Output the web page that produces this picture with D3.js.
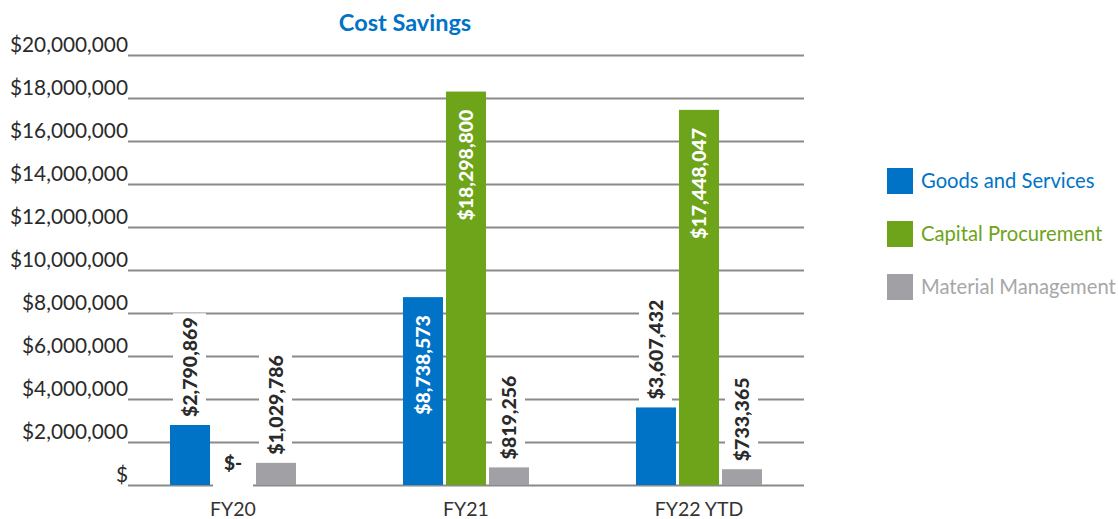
<!DOCTYPE html>
<html>
<head>
<meta charset="utf-8">
<script src="https://cdn.jsdelivr.net/npm/d3@7"></script>
<style>
body{margin:0;background:#fff;}
svg{display:block;font-family:Lato,"Open Sans",sans-serif;}
</style>
</head>
<body>
<svg id="svg" width="1118" height="519"></svg>
<script>
// chart data
var years=["FY20","FY21","FY22 YTD"];
var seriesNames=["Goods and Services","Capital Procurement","Material Management"];
var goodsServices=[2790869,8738573,3607432];
var capitalProcurement=[0,18298800,17448047];
var materialManagement=[1029786,819256,733365];
var yTicks=[0,2000000,4000000,6000000,8000000,10000000,12000000,14000000,16000000,18000000,20000000];

var colors=["#0073c7","#6da419","#a1a1a5"];
var legendText=["#0073c7","#6da419","#a7a7aa"];

var plotLeft=128,plotRight=804,plotTop=55,plotBottom=485;
var svg=d3.select("#svg");

var x0=d3.scaleBand().domain(years).range([116.5,815.5]);
var x1=d3.scaleBand().domain(seriesNames).range([0,126]).paddingInner(3/43);
var y=d3.scaleLinear().domain([0,20000000]).range([plotBottom,plotTop]);

var money=d3.format("$,");

// title
svg.append("text")
    .attr("x",405).attr("y",31)
    .attr("text-anchor","middle")
    .style("font-size","23.5px").style("font-weight","bold")
    .style("fill","#0073c7")
    .text("Cost Savings");

// gridlines + y labels
var yAxis=svg.append("g")
    .attr("transform","translate("+plotRight+",0)")
    .call(d3.axisLeft(y).tickValues(yTicks).tickSize(plotRight-plotLeft).tickPadding(0)
        .tickFormat(d=>d===0?"$":money(d)));
yAxis.select(".domain").remove();
yAxis.selectAll("line").attr("stroke","#8a8a8a").attr("stroke-width",2);
yAxis.selectAll("text")
    .attr("dy","-0.16em")
    .style("font-size","20.8px").style("fill","#2a2a2a")
    .style("font-family","Lato,'Open Sans',sans-serif");

// category labels
svg.append("g").selectAll("text").data(years).enter().append("text")
    .attr("x",d=>x0(d)+x0.bandwidth()/2)
    .attr("y",516)
    .attr("text-anchor","middle")
    .style("font-size","19.5px").style("fill","#333")
    .text(d=>d);

var rows=[];
years.forEach((yr,i)=>{
    [goodsServices,capitalProcurement,materialManagement].forEach((arr,j)=>{
        rows.push({year:yr,series:seriesNames[j],value:arr[i],color:colors[j]});
    });
});
var gx=d=>x0(d.year)+x0.bandwidth()/2-63+x1(d.series);

svg.append("g").selectAll("rect").data(rows.filter(d=>d.value>0)).enter().append("rect")
    .attr("x",gx)
    .attr("y",d=>y(d.value))
    .attr("width",x1.bandwidth())
    .attr("height",d=>plotBottom-y(d.value))
    .attr("fill",d=>d.color);

// value labels
var labels=svg.append("g");
rows.forEach(d=>{
    var cx=gx(d)+x1.bandwidth()/2;
    var barTop=y(d.value);
    if(d.value===0){
        var g=labels.append("g");
        var t=g.append("text").attr("x",cx).attr("y",470)
            .attr("text-anchor","middle")
            .style("font-size","19px").style("font-weight","900").style("fill","#2a2a2a")
            .text("$-");
        var b=t.node().getBBox();
        g.insert("rect","text").attr("x",gx(d)).attr("y",b.y-4)
            .attr("width",x1.bandwidth()).attr("height",plotBottom+2-(b.y-4)).attr("fill","#fff");
        return;
    }
    var txt=money(d.value);
    var inside=(plotBottom-barTop)>130;
    var g=labels.append("g").attr("transform","translate("+(cx+7)+","+barTop+") rotate(-90)");
    var t=g.append("text")
        .attr("x",inside?-18:8).attr("y",0)
        .attr("text-anchor",inside?"end":"start")
        .style("font-size","19.5px").style("font-weight","900")
        .style("fill",inside?"#fff":"#2a2a2a")
        .text(txt);
    if(!inside){
        var b=t.node().getBBox();
        g.insert("rect","text").attr("x",b.x-4).attr("y",b.y-5)
            .attr("width",b.width+8).attr("height",b.height+10).attr("fill","#fff");
    }
});

// legend
var leg=svg.append("g").selectAll("g").data(seriesNames).enter().append("g")
    .attr("transform",(d,i)=>"translate(887,"+(168+i*53)+")");
leg.append("rect").attr("width",26).attr("height",26).attr("fill",(d,i)=>colors[i]);
leg.append("text").attr("x",34).attr("y",20)
    .style("font-size","20.2px").style("fill",(d,i)=>legendText[i])
    .text(d=>d);
</script>
</body>
</html>
